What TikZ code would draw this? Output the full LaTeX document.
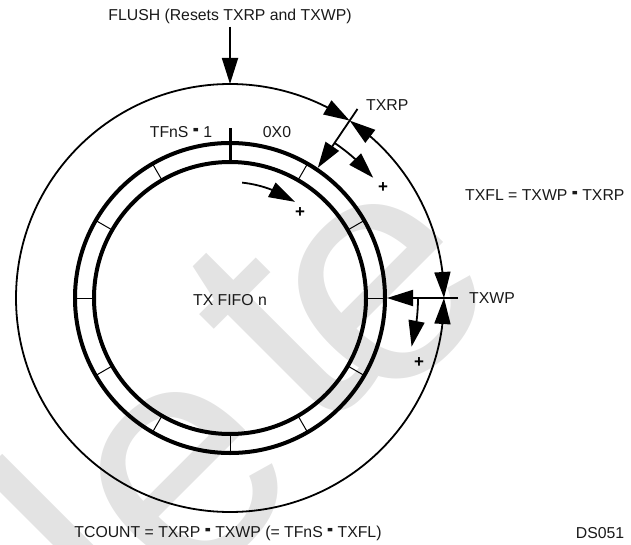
\documentclass[tikz,border=0pt]{standalone}
\usepackage{fontspec}
\setmainfont{Liberation Sans}
\usetikzlibrary{arrows.meta,bending,calc}
\newcommand{\mn}{\scalebox{1.15}[1.8]{\bfseries -}}
\tikzset{
  tipa/.tip={Triangle[length=26pt,width=16pt]},
  lbl/.style={font=\fontsize{15.8}{18}\selectfont, inner sep=0pt, text=black!90},
  plus/.style={font=\fontsize{17}{18}\selectfont\bfseries, inner sep=0pt},
  ring/.style={line width=4pt},
  tickline/.style={line width=1pt},
  bigc/.style={line width=1.8pt},
  arr/.style={line width=1.8pt, -tipa},
  wmark/.style={font=\fontsize{325}{325}\selectfont, text=black!11, inner sep=0pt, rotate=45}
}
\begin{document}
\begin{tikzpicture}[x=1pt,y=1pt]
\useasboundingbox (0,0) rectangle (631,544);
% watermark
\begin{scope}
\clip (0,0) rectangle (631,544);
\node[wmark] (wl) at (76,-4) {l};
\node[wmark] (we1) at (188,64) {e};
\node[wmark] (wt) at (276,210) {t};
\node[wmark] (we2) at (386,252) {e};
\end{scope}
% centre and key points
\coordinate (C) at (230,246);
\coordinate (T) at ($(C)+(90:214)$);
\coordinate (P) at ($(C)+(56:214)$);
\coordinate (W) at ($(C)+(0:214)$);
\coordinate (Pout) at ($(C)+(56:228)$);
\coordinate (Pin) at ($(C)+(56:157)$);
\coordinate (Pa) at ($(C)+(56:187)$);
\coordinate (Wout) at (458,246);
\coordinate (Win) at ($(C)+(0:157)$);
\coordinate (Wa) at ($(C)+(0:188)$);
\coordinate (Ia) at ($(C)+(84:116)$);
% FIFO rings
\draw[ring] (C) circle[radius=155];
\draw[ring] (C) circle[radius=136];
\foreach \a in {0,30,60,120,150,180,210,240,270,300,330}
  \draw[tickline, shift={(C)}] (\a:136) -- (\a:155);
\draw[line width=3pt, shift={(C)}] (90:136) -- (90:170);
% outer pointer circle
\draw[bigc, -tipa] (T) arc[start angle=90, end angle=56, radius=214];
\draw[bigc, tipa-tipa] (P) arc[start angle=56, end angle=0, radius=214];
\draw[bigc, tipa-] (W) arc[start angle=0, end angle=-270, radius=214];
% labels
\node[lbl] (flush) at (230,528) {FLUSH (Resets TXRP and TXWP)};
\draw[arr, shorten <=3pt] (flush) -- (T);
\node[lbl, anchor=west] (txrp) at (366,439) {TXRP};
\node[lbl, anchor=west] (txwp) at (469,246) {TXWP};
\node[lbl, anchor=west] (txfl) at (465,349) {TXFL = TXWP \mn\ TXRP};
\node[lbl] (tfns) at (181,412) {TFnS \mn\ 1};
\node[lbl] (zero) at (277,412) {0X0};
\node[lbl] (fifo) at (230,244) {TX FIFO n};
\node[lbl] (tcount) at (228,11) {TCOUNT = TXRP \mn\ TXWP (= TFnS \mn\ TXFL)};
\node[lbl] (ds) at (600,11) {DS051};
% pointers
\draw[arr] (Pout) -- (Pin);
\draw[arr] (Wout) -- (Win);
\draw[arr] (Pa) arc[start angle=56, end angle=40, radius=187];
\draw[arr] (Wa) arc[start angle=0, end angle=-15, radius=188];
\draw[arr] (Ia) arc[start angle=84, end angle=56, radius=116];
\node[plus] (p1) at (383,356) {+};
\node[plus] (p2) at (419,181) {+};
\node[plus] (p3) at (300,331) {+};
\end{tikzpicture}
\end{document}
